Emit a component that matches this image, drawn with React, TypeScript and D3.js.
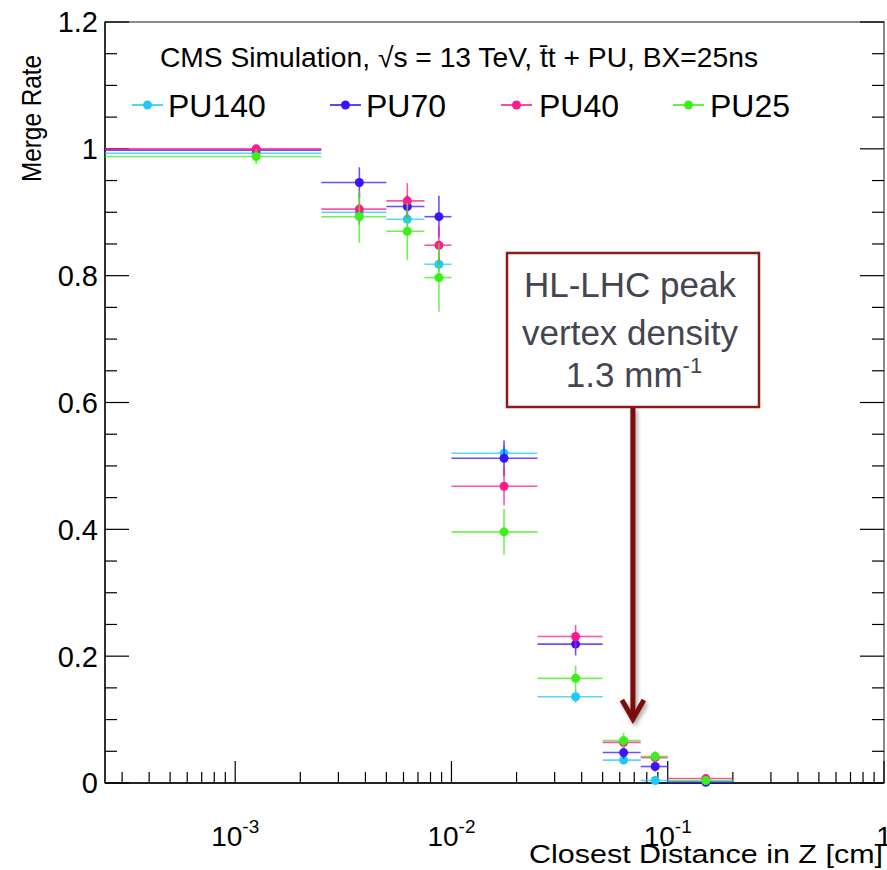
import React from "react";
import * as d3 from "d3";

// ---- data ----
const binCenters = [1.25e-3, 3.75e-3, 6.25e-3, 8.75e-3, 1.75e-2, 3.75e-2, 6.25e-2, 8.75e-2, 1.5e-1];
const binLow = [0, 2.5e-3, 5e-3, 7.5e-3, 1e-2, 2.5e-2, 5e-2, 7.5e-2, 1e-1];
const binHigh = [2.5e-3, 5e-3, 7.5e-3, 1e-2, 2.5e-2, 5e-2, 7.5e-2, 1e-1, 2e-1];

const pu140 = [0.993, 0.9, 0.889, 0.818, 0.52, 0.136, 0.036, 0.004, 0.002];
const pu140Err = [0.005, 0.015, 0.012, 0.012, 0.012, 0.01, 0.005, 0.003, 0.002];
const pu70 = [0.998, 0.947, 0.909, 0.893, 0.512, 0.219, 0.048, 0.026, 0.001];
const pu70Err = [0.005, 0.024, 0.018, 0.033, 0.028, 0.018, 0.01, 0.008, 0.001];
const pu40 = [1.0, 0.905, 0.918, 0.848, 0.468, 0.231, 0.064, 0.04, 0.007];
const pu40Err = [0.004, 0.025, 0.028, 0.03, 0.03, 0.018, 0.01, 0.008, 0.003];
const pu25 = [0.988, 0.893, 0.87, 0.797, 0.396, 0.165, 0.067, 0.042, 0.004];
const pu25Err = [0.012, 0.041, 0.045, 0.054, 0.036, 0.02, 0.012, 0.008, 0.004];

const seriesNames = ["PU140", "PU70", "PU40", "PU25"];
const seriesColors = ["#22c8f8", "#3a14ff", "#ff1a8e", "#3cf01a"];
const seriesValues = [pu140, pu70, pu40, pu25];
const seriesErrors = [pu140Err, pu70Err, pu40Err, pu25Err];

const xMajorTicks = [1e-3, 1e-2, 1e-1, 1];
const xMajorLabels = [["10", "-3"], ["10", "-2"], ["10", "-1"], ["1", ""]];
const yMajorTicks = [0, 0.2, 0.4, 0.6, 0.8, 1, 1.2];
const yMajorLabels = ["0", "0.2", "0.4", "0.6", "0.8", "1", "1.2"];

const headerText = "CMS Simulation,  \u221As = 13 TeV, t\u0304t + PU, BX=25ns";
const annotationLines = ["HL-LHC peak", "vertex density"];
const annotationX = 0.069;

// ---- layout ----
const W = 887;
const H = 870;
const L = 105, R = 884, T = 22, B = 783;
const FONT = "'Liberation Sans', Arial, Helvetica, sans-serif";

export default function App() {
  const x = d3.scaleLog().domain([2.5e-4, 1]).range([L, R]);
  const y = d3.scaleLinear().domain([0, 1.2]).range([B, T]);
  const [xmin] = x.domain();

  const xMinor: number[] = [];
  for (let e = -4; e <= -1; e++) {
    for (let m = 2; m <= 9; m++) {
      const v = m * Math.pow(10, e);
      if (v > xmin && v < 1) xMinor.push(v);
    }
  }
  const yMinor = d3.range(0, 1.2001, 0.05).filter((v) => Math.abs(v / 0.2 - Math.round(v / 0.2)) > 1e-6);

  const arrowX = x(annotationX);
  const boxL = 507, boxR = 759, boxT = 253, boxB = 407;
  const arrowTip = 719;

  return (
    <svg width={W} height={H} style={{ position: "absolute", left: 0, top: 0, background: "#fff" }} fontFamily={FONT}>
      <defs>
        <filter id="shadow" x="-50%" y="-10%" width="200%" height="130%">
          <feGaussianBlur stdDeviation="2" />
        </filter>
      </defs>
      <rect x={0} y={0} width={W} height={H} fill="#fff" />
      {/* frame */}
      <rect x={L} y={T} width={R - L} height={B - T} fill="none" stroke="#666" strokeWidth={1.5} />
      <line x1={L} x2={L} y1={T} y2={B} stroke="#000" strokeWidth={1.3} />
      <line x1={L} x2={R} y1={B} y2={B} stroke="#000" strokeWidth={1.3} />

      {/* y ticks */}
      {yMajorTicks.map((v, i) => (
        <g key={"ym" + i}>
          <line x1={L} x2={L + 24} y1={y(v)} y2={y(v)} stroke="#000" strokeWidth={1.2} />
          <line x1={R} x2={R - 24} y1={y(v)} y2={y(v)} stroke="#000" strokeWidth={1.2} />
          <text x={98} y={y(v)} dy="0.36em" textAnchor="end" fontSize={29} fill="#000">
            {yMajorLabels[i]}
          </text>
        </g>
      ))}
      {yMinor.map((v, i) => (
        <g key={"yn" + i}>
          <line x1={L} x2={L + 12} y1={y(v)} y2={y(v)} stroke="#000" strokeWidth={1.2} />
          <line x1={R} x2={R - 12} y1={y(v)} y2={y(v)} stroke="#000" strokeWidth={1.2} />
        </g>
      ))}

      {/* x ticks */}
      {xMajorTicks.map((v, i) => (
        <g key={"xm" + i}>
          <line x1={x(v)} x2={x(v)} y1={B} y2={B - 22} stroke="#000" strokeWidth={1.2} />
          <text x={x(v)} y={846} textAnchor="middle" fontSize={28} fill="#000">
            {xMajorLabels[i][0]}
            {xMajorLabels[i][1] && (
              <tspan fontSize={19} dy={-13}>
                {xMajorLabels[i][1]}
              </tspan>
            )}
          </text>
        </g>
      ))}
      {xMinor.map((v, i) => (
        <line key={"xn" + i} x1={x(v)} x2={x(v)} y1={B} y2={B - 11} stroke="#000" strokeWidth={1.2} />
      ))}

      {/* axis titles */}
      <text x={883} y={863} textAnchor="end" fontSize={25} fill="#000" textLength={354} lengthAdjust="spacingAndGlyphs">
        Closest Distance in Z [cm]
      </text>
      <text transform={`translate(41,55) rotate(-90)`} textAnchor="end" fontSize={28} fill="#000" textLength={127} lengthAdjust="spacingAndGlyphs">
        Merge Rate
      </text>

      {/* data */}
      {seriesValues.map((vals, s) => (
        <g key={"s" + s}>
          {vals.map((v, i) => {
            const cx = x(binCenters[i]);
            const cy = y(v);
            const x0 = x(Math.max(binLow[i], xmin));
            const x1 = x(binHigh[i]);
            const e = seriesErrors[s][i];
            return (
              <g key={i}>
                <line x1={x0} x2={x1} y1={cy} y2={cy} stroke={seriesColors[s]} strokeWidth={1.6} strokeOpacity={0.75} />
                <line x1={cx} x2={cx} y1={y(Math.min(v + e, 1.2))} y2={y(Math.max(v - e, 0))} stroke={seriesColors[s]} strokeWidth={1.6} strokeOpacity={0.75} />
                <circle cx={cx} cy={cy} r={4.5} fill={seriesColors[s]} />
              </g>
            );
          })}
        </g>
      ))}

      {/* header */}
      <text x={160} y={67} fontSize={28} fill="#000" textLength={598} lengthAdjust="spacingAndGlyphs">
        {headerText}
      </text>

      {/* legend */}
      {seriesNames.map((n, i) => {
        const lx = [132, 330, 501, 673][i];
        const tx = [168, 366, 539, 710][i];
        return (
          <g key={"lg" + i}>
            <line x1={lx} x2={lx + 31} y1={105} y2={105} stroke={seriesColors[i]} strokeWidth={1.6} />
            <circle cx={lx + 15.5} cy={105} r={4.5} fill={seriesColors[i]} />
            <text x={tx} y={117} fontSize={32} fill="#000">
              {n}
            </text>
          </g>
        );
      })}

      {/* annotation */}
      <g filter="url(#shadow)" opacity={0.35} transform="translate(2,3)">
        <line x1={arrowX} x2={arrowX} y1={boxB} y2={arrowTip - 3} stroke="#000" strokeWidth={5} />
        <polyline points={`${arrowX - 11},${arrowTip - 19} ${arrowX},${arrowTip} ${arrowX + 11},${arrowTip - 19}`} fill="none" stroke="#000" strokeWidth={5} />
      </g>
      <line x1={arrowX} x2={arrowX} y1={boxB} y2={arrowTip - 3} stroke="#7a0c0c" strokeWidth={5} />
      <polyline points={`${arrowX - 11},${arrowTip - 19} ${arrowX},${arrowTip} ${arrowX + 11},${arrowTip - 19}`} fill="none" stroke="#7a0c0c" strokeWidth={5} strokeLinejoin="miter" />
      <rect x={boxL} y={boxT} width={boxR - boxL} height={boxB - boxT} fill="#fff" stroke="#8b1a1a" strokeWidth={2.5} />
      <text x={630} y={297} textAnchor="middle" fontSize={35} fill="#454552">
        {annotationLines[0]}
      </text>
      <text x={630} y={345} textAnchor="middle" fontSize={35} fill="#454552">
        {annotationLines[1]}
      </text>
      <text x={634} y={387} textAnchor="middle" fontSize={35} fill="#454552">
        1.3 mm<tspan fontSize={22} dy={-14}>-1</tspan>
      </text>
    </svg>
  );
}
